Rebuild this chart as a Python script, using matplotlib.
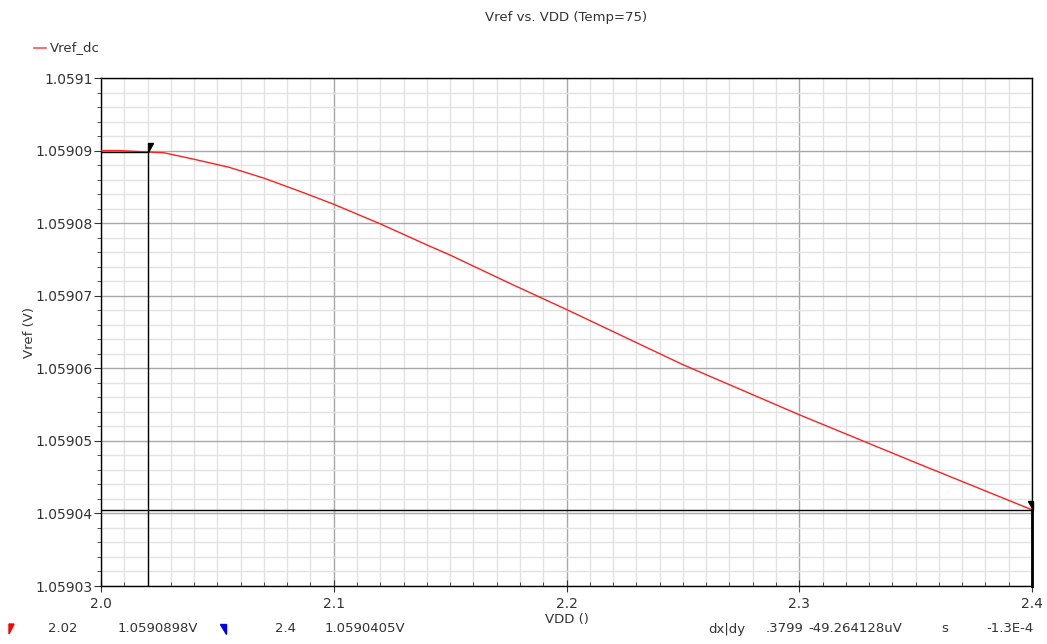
import matplotlib
matplotlib.use("Agg")
import matplotlib.pyplot as plt
from matplotlib.lines import Line2D
from matplotlib.patches import Polygon
import matplotlib.transforms as mtransforms
import numpy as np

# DC sweep of VDD vs reference voltage at 75 C
vdd = [2.0, 2.008, 2.02, 2.027, 2.04, 2.055, 2.07, 2.087, 2.1, 2.12, 2.14,
       2.15, 2.175, 2.2, 2.25, 2.3, 2.35, 2.4]
vref = [1.0590900, 1.0590900, 1.0590898, 1.0590897, 1.0590888, 1.0590877,
        1.0590862, 1.0590842, 1.0590826, 1.0590799, 1.0590770, 1.0590756,
        1.0590718, 1.0590681, 1.0590605, 1.0590536, 1.0590470, 1.0590405]

# cursor markers
m1_x, m1_y = 2.02, 1.0590898
m2_x, m2_y = 2.4, 1.0590405

x_ticks = [2.0, 2.1, 2.2, 2.3, 2.4]
x_tick_labels = ["2.0", "2.1", "2.2", "2.3", "2.4"]
y_ticks = [1.05903, 1.05904, 1.05905, 1.05906, 1.05907, 1.05908, 1.05909, 1.0591]
y_tick_labels = ["1.05903", "1.05904", "1.05905", "1.05906", "1.05907",
                 "1.05908", "1.05909", "1.0591"]

W, H = 1047, 644
TXT = "#333333"
fig = plt.figure(figsize=(W / 100, H / 100), dpi=100)
fig.patch.set_facecolor("white")
ax = fig.add_axes([101 / W, 1 - 586 / H, (1032 - 101) / W, (586 - 78) / H])

ax.set_xlim(2.0, 2.4)
ax.set_ylim(1.05903, 1.0591)

ax.set_xticks(x_ticks)
ax.set_xticklabels(x_tick_labels)
ax.set_yticks(y_ticks)
ax.set_yticklabels(y_tick_labels)
ax.set_xticks(np.arange(2.0, 2.4001, 0.01), minor=True)
ax.set_yticks(np.arange(1.05903, 1.059100001, 0.000002), minor=True)

ax.grid(which="minor", color="#e2e2e2", linewidth=1.0)
ax.grid(which="major", color="#a8a8a8", linewidth=1.0)
ax.set_axisbelow(True)

ax.tick_params(axis="y", which="major", direction="out", length=5, labelsize=10,
               colors=TXT, labelcolor=TXT, pad=1)
ax.tick_params(axis="y", which="minor", direction="out", length=3, colors=TXT)
ax.tick_params(axis="x", which="major", direction="inout", length=8, labelsize=10,
               colors=TXT, labelcolor=TXT, pad=4)
ax.tick_params(axis="x", which="minor", direction="in", length=3, colors=TXT)

for s in ax.spines.values():
    s.set_color("black")
    s.set_linewidth(1.0)

ax.plot(vdd, vref, color="#ff2020", linewidth=1.0, zorder=3)

# cursor lines
ax.plot([2.0, m1_x], [m1_y, m1_y], color="black", linewidth=1.0, zorder=4)
ax.plot([m1_x, m1_x], [1.05903, m1_y], color="black", linewidth=1.0, zorder=4)
ax.axhline(m2_y, color="black", linewidth=1.0, zorder=4)
ax.plot([m2_x, m2_x], [1.05903, m2_y], color="black", linewidth=2.0, zorder=4,
        clip_on=False)

# cursor flags (small pennants at the top of each cursor line)
flag_left = [(0, 0), (0, 9), (5, 9)]
flag_right = [(0, 0), (0, 9), (-5, 9)]
p1 = ax.transData.transform((m1_x, m1_y))
p2 = ax.transData.transform((m2_x, m2_y))
fig.add_artist(Polygon([(p1[0] + dx, p1[1] + dy) for dx, dy in flag_left],
                       closed=True, color="black", transform=None))
fig.add_artist(Polygon([(p2[0] + 1 + dx, p2[1] + dy) for dx, dy in flag_right],
                       closed=True, color="black", transform=None))

ax.set_ylabel("Vref (V)", fontsize=9.5, color=TXT)
ax.yaxis.set_label_coords(-65 / (1032 - 101), 0.5)
ax.set_xlabel("VDD ()", fontsize=9.5, color=TXT, labelpad=1)

fig.text(566 / W, 1 - 18 / H, "Vref vs. VDD (Temp=75)", ha="center", va="center",
         fontsize=9.5, color=TXT)

# legend entry
fig.add_artist(Line2D([34 / W, 46 / W], [1 - 48 / H, 1 - 48 / H],
                      color="#ff5050", linewidth=1.2))
fig.text(50 / W, 1 - 48 / H, "Vref_dc", ha="left", va="center", fontsize=9.5,
         color=TXT)

# cursor readout row
ry = 1 - 629 / H


def readout_flag(pts, color):
    fig.add_artist(Polygon([(x / W, 1 - y / H) for x, y in pts], closed=True,
                           color=color, transform=fig.transFigure))


readout_flag([(9, 624), (14, 624), (9, 634)], "#ff0000")
readout_flag([(220, 624), (226, 624), (226, 634)], "#0000ff")
fig.text(63 / W, ry, f"{m1_x:g}", ha="center", va="center", fontsize=9.5, color=TXT)
fig.text(158 / W, ry, f"{m1_y:.7f}V", ha="center", va="center", fontsize=9.5, color=TXT)
fig.text(285 / W, ry, f"{m2_x:g}", ha="center", va="center", fontsize=9.5, color=TXT)
fig.text(365 / W, ry, f"{m2_y:.7f}V", ha="center", va="center", fontsize=9.5, color=TXT)
fig.text(727 / W, ry, "dx|dy", ha="center", va="center", fontsize=9.5, color=TXT)
fig.text(785 / W, ry, ".3799", ha="center", va="center", fontsize=9.5, color=TXT)
fig.text(855 / W, ry, "-49.264128uV", ha="center", va="center", fontsize=9.5, color=TXT)
fig.text(945 / W, ry, "s", ha="center", va="center", fontsize=9.5, color=TXT)
fig.text(1010 / W, ry, "-1.3E-4", ha="center", va="center", fontsize=9.5, color=TXT)

fig.savefig("out.png", dpi=100, facecolor="white")
